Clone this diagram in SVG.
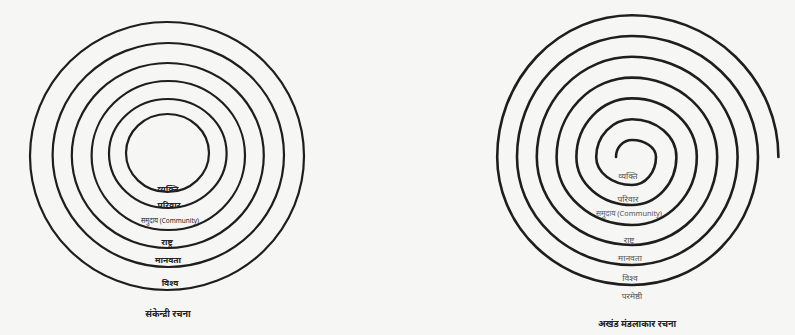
<svg xmlns="http://www.w3.org/2000/svg" width="795" height="335" viewBox="0 0 795 335">
<style>
.ring{fill:none;stroke:#1e1e1e;stroke-width:2.2}
.spiral{fill:none;stroke:#1e1e1e;stroke-width:2.6;stroke-linecap:round}
.lbl{font-family:"Noto Sans","Noto Sans Devanagari","Lohit Devanagari","FreeSans",sans-serif;font-size:8.5px;text-anchor:middle;dominant-baseline:central;fill:#222;font-weight:bold}
.lbl2{font-family:"Noto Sans","Noto Sans Devanagari","Lohit Devanagari","FreeSans",sans-serif;font-size:8.5px;text-anchor:middle;dominant-baseline:central;fill:#555}
.comm{font-size:7.5px;font-weight:normal}
.ttl{font-family:"Noto Sans","Noto Sans Devanagari","Lohit Devanagari","FreeSans",sans-serif;font-size:9px;text-anchor:middle;dominant-baseline:central;fill:#222;font-weight:bold}
</style>
<rect width="795" height="335" fill="#f6f6f4"/>
<g id="concentric">
  <g id="ring-vishva"><ellipse class="ring" cx="167" cy="156" rx="137" ry="134"/></g>
  <g id="ring-manavata"><ellipse class="ring" cx="168.3" cy="155" rx="115.7" ry="112"/></g>
  <g id="ring-rashtra"><ellipse class="ring" cx="167.8" cy="155.5" rx="96" ry="92.5"/></g>
  <g id="ring-samudaya"><ellipse class="ring" cx="168.3" cy="155.5" rx="76.7" ry="74.5"/></g>
  <g id="ring-parivar"><ellipse class="ring" cx="167.8" cy="153.5" rx="58.8" ry="54.5"/></g>
  <g id="ring-vyakti"><ellipse class="ring" cx="167.5" cy="153" rx="41.5" ry="39"/></g>
  <g id="labels-left">
    <text class="lbl" x="168" y="188">व्यक्ति</text>
    <text class="lbl" x="169" y="204">परिवार</text>
    <text class="lbl comm" x="170" y="220" textLength="58" lengthAdjust="spacingAndGlyphs">समुदाय (Community)</text>
    <text class="lbl" x="167" y="241">राष्ट्र</text>
    <text class="lbl" x="168" y="259">मानवता</text>
    <text class="lbl" x="170" y="282">विश्व</text>
    <text class="ttl" x="168" y="313">संकेन्द्री रचना</text>
  </g>
</g>
<g id="spiral">
  <path class="spiral" d="M616 157 A16 17 0 0 1 632 140 A24 17 0 0 1 656 157 A24 28 0 0 1 632 185 A35.8 28 0 0 1 596.2 157 A35.8 37.8 0 0 1 632 119.2 A44.4 37.8 0 0 1 676.4 157 A44.4 48 0 0 1 632 205 A55.6 48 0 0 1 576.4 157 A55.6 58.6 0 0 1 632 98.4 A64.8 58.6 0 0 1 696.8 157 A64.8 68 0 0 1 632 225 A75.4 68 0 0 1 556.6 157 A75.4 79.4 0 0 1 632 77.6 A85.2 79.4 0 0 1 717.2 157 A85.2 88 0 0 1 632 245 A95.2 88 0 0 1 536.8 157 A95.2 100.2 0 0 1 632 56.8 A105.6 100.2 0 0 1 737.6 157 A105.6 108 0 0 1 632 265 A115 108 0 0 1 517 157 A115 121 0 0 1 632 36 A126 121 0 0 1 758 157 A126 128 0 0 1 632 285 A134.8 128 0 0 1 497.2 157 A134.8 141.8 0 0 1 632 15.2 A146.4 141.8 0 0 1 778.4 157"/>
  <g id="labels-right">
    <text class="lbl2" x="628" y="175">व्यक्ति</text>
    <text class="lbl2" x="628" y="198">परिवार</text>
    <text class="lbl2 comm" x="629" y="213" textLength="66" lengthAdjust="spacingAndGlyphs">समुदाय (Community)</text>
    <text class="lbl2" x="629" y="239">राष्ट्र</text>
    <text class="lbl2" x="630" y="257">मानवता</text>
    <text class="lbl2" x="630" y="277">विश्व</text>
    <text class="lbl2" x="632" y="295">परमेष्ठी</text>
    <text class="ttl" x="637" y="323">अखंड मंडलाकार रचना</text>
  </g>
</g>
</svg>
